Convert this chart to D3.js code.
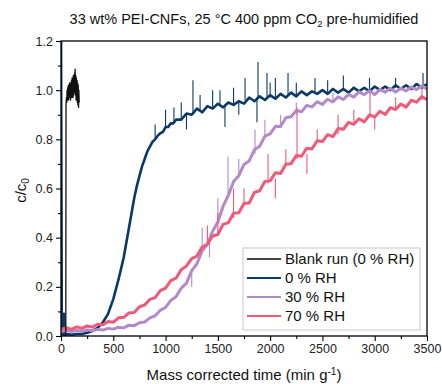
<!DOCTYPE html>
<html>
<head>
<meta charset="utf-8">
<script src="https://cdn.jsdelivr.net/npm/d3@7"></script>
<style>
  body { margin: 0; background: #fff; }
  text { font-family: Arial, "Liberation Sans", sans-serif; }
</style>
</head>
<body>
<svg id="chart" width="442" height="384"></svg>
<script>
// series: [mass corrected time (min/g), c/c0]
const blankRun = [[40,0.0],[46,0.0],[48,0.94],[52,0.97],[55,0.95],[58,1.0],[61,0.96],[64,1.01],[67,0.97],[70,1.02],[73,0.96],[76,1.01],[79,0.98],[82,1.03],[85,0.97],[88,1.02],[91,0.96],[94,1.03],[97,0.98],[100,1.04],[103,0.97],[106,1.05],[109,0.99],[112,1.04],[115,0.97],[118,1.06],[121,0.98],[124,1.05],[127,1.0],[130,1.07],[133,0.99],[135,1.085],[138,0.98],[141,1.06],[144,0.96],[147,1.05],[150,0.97],[153,1.04],[156,0.95],[159,1.03],[162,0.94],[165,1.02],[168,0.93],[171,1.0],[174,0.95]];

const rh0 = [[0,1.25],[8,0.0],[20,0.01],[28,0.09],[34,0.0],[60,0.008],[100,0.005],[150,0.008],[200,0.008],[250,0.013],[300,0.02],[350,0.033],[400,0.055],[450,0.09],[500,0.15],[550,0.23],[600,0.32],[650,0.44],[700,0.56],[725,0.61],[750,0.65],[775,0.69],[800,0.72],[825,0.75],[850,0.77],[875,0.79],[900,0.8],[925,0.815],[950,0.825],[975,0.83],[1000,0.85],[1025,0.85],[1050,0.865],[1075,0.865],[1100,0.88],[1150,0.88],[1200,0.905],[1250,0.9],[1300,0.925],[1350,0.91],[1400,0.935],[1450,0.925],[1500,0.945],[1550,0.93],[1600,0.95],[1650,0.94],[1700,0.955],[1750,0.945],[1800,0.97],[1850,0.955],[1900,0.975],[1950,0.96],[2000,0.98],[2050,0.965],[2100,0.985],[2150,0.97],[2200,0.99],[2250,0.975],[2300,0.995],[2350,0.98],[2400,0.995],[2450,0.985],[2500,1.0],[2550,0.985],[2600,1.005],[2650,0.99],[2700,1.005],[2750,0.99],[2800,1.01],[2850,0.995],[2900,1.01],[2950,0.995],[3000,1.015],[3050,1.0],[3100,1.015],[3150,1.0],[3200,1.02],[3250,1.005],[3300,1.02],[3350,1.005],[3400,1.025],[3450,1.01],[3500,1.025]];

const rh30 = [[0,0.018],[50,0.022],[100,0.018],[150,0.022],[200,0.019],[250,0.025],[300,0.021],[350,0.027],[400,0.024],[450,0.031],[500,0.028],[550,0.036],[600,0.033],[650,0.044],[700,0.042],[750,0.054],[800,0.057],[850,0.074],[900,0.082],[950,0.105],[1000,0.116],[1050,0.145],[1100,0.16],[1150,0.195],[1200,0.215],[1250,0.266],[1300,0.294],[1350,0.346],[1400,0.374],[1450,0.426],[1500,0.464],[1550,0.528],[1600,0.572],[1650,0.628],[1700,0.652],[1750,0.698],[1800,0.712],[1850,0.758],[1900,0.772],[1950,0.813],[2000,0.822],[2050,0.853],[2100,0.852],[2150,0.888],[2200,0.892],[2250,0.918],[2300,0.912],[2350,0.938],[2400,0.932],[2450,0.953],[2500,0.942],[2550,0.963],[2600,0.952],[2650,0.973],[2700,0.962],[2750,0.983],[2800,0.972],[2850,0.993],[2900,0.982],[2950,0.998],[3000,0.982],[3050,1.003],[3100,0.992],[3150,1.008],[3200,0.992],[3250,1.008],[3300,0.997],[3350,1.013],[3400,1.002],[3450,1.018],[3500,1.004]];

const rh70 = [[0,0.026],[50,0.034],[100,0.027],[150,0.037],[200,0.031],[250,0.041],[300,0.036],[350,0.048],[400,0.046],[450,0.059],[500,0.056],[550,0.074],[600,0.076],[650,0.094],[700,0.096],[750,0.119],[800,0.126],[850,0.149],[900,0.156],[950,0.185],[1000,0.195],[1050,0.225],[1100,0.235],[1150,0.27],[1200,0.285],[1250,0.315],[1300,0.325],[1350,0.362],[1400,0.373],[1450,0.407],[1500,0.413],[1550,0.454],[1600,0.461],[1650,0.499],[1700,0.501],[1750,0.539],[1800,0.541],[1850,0.584],[1900,0.591],[1950,0.629],[2000,0.631],[2050,0.664],[2100,0.661],[2150,0.699],[2200,0.701],[2250,0.734],[2300,0.731],[2350,0.764],[2400,0.761],[2450,0.794],[2500,0.791],[2550,0.819],[2600,0.811],[2650,0.844],[2700,0.841],[2750,0.869],[2800,0.861],[2850,0.884],[2900,0.871],[2950,0.899],[3000,0.891],[3050,0.914],[3100,0.901],[3150,0.929],[3200,0.921],[3250,0.944],[3300,0.931],[3350,0.959],[3400,0.951],[3450,0.974],[3500,0.961]];

// noise spikes: [time, from, to]
const rh0Spikes = [[900,0.8,0.86],[1000,0.85,0.92],[1080,0.87,0.93],[1150,0.88,0.95],[1200,0.9,0.84],[1262,0.90,1.04],[1330,0.92,0.98],[1450,0.93,1.0],[1520,0.94,1.0],[1568,0.94,0.85],[1650,0.94,1.01],[1700,0.95,0.9],[1760,0.96,1.05],[1874,0.97,0.87],[1884,0.97,1.115],[1970,0.97,1.07],[2000,0.97,1.03],[2050,0.97,1.05],[2171,0.98,1.07],[2250,0.98,1.03],[2429,0.99,1.05],[2550,0.99,1.04],[2700,1.0,1.06],[2950,1.0,1.05],[3200,1.01,1.05],[3462,1.01,1.07]];
const rh30Spikes = [[1250,0.27,0.2],[1350,0.34,0.44],[1420,0.4,0.32],[1500,0.46,0.56],[1597,0.58,0.73],[1700,0.65,0.72],[1855,0.74,0.84],[1950,0.81,0.88],[2100,0.85,0.9],[2250,0.9,0.95],[2600,0.95,0.99]];
const rh70Spikes = [[1400,0.37,0.45],[1500,0.42,0.5],[1650,0.48,0.6],[1750,0.54,0.6],[1980,0.62,0.74],[2050,0.64,0.56],[2150,0.7,0.76],[2257,0.72,0.93],[2352,0.74,0.66],[2450,0.79,0.84],[2650,0.82,0.9],[2800,0.86,0.92],[2955,0.89,0.99],[3000,0.89,0.84],[3200,0.92,0.97],[3452,0.96,1.01]];

const xTicks = [0, 500, 1000, 1500, 2000, 2500, 3000, 3500];
const yTicks = [0.0, 0.2, 0.4, 0.6, 0.8, 1.0, 1.2];
const legendNames = ['Blank run (0 % RH)', '0 % RH', '30 % RH', '70 % RH'];
const colors = ['#111111', '#0a3868', '#b38ac9', '#ef5a78'];

const svg = d3.select('#chart');
const margin = { top: 41, right: 15, bottom: 48, left: 61 };
const width = +svg.attr('width') - margin.left - margin.right;
const height = +svg.attr('height') - margin.top - margin.bottom;

const x = d3.scaleLinear().domain([0, 3500]).range([0, width]);
const y = d3.scaleLinear().domain([0, 1.2]).range([height, 0]);

const g = svg.append('g').attr('transform', `translate(${margin.left},${margin.top})`);

g.append('clipPath').attr('id', 'clip')
  .append('rect').attr('width', width).attr('height', height);

const plot = g.append('g').attr('clip-path', 'url(#clip)');

const line = d3.line()
  .x(d => x(d[0]))
  .y(d => y(d[1]));

function drawSeries(data, spikes, color, w) {
  plot.append('path')
    .datum(data)
    .attr('fill', 'none')
    .attr('stroke', color)
    .attr('stroke-width', w)
    .attr('stroke-linejoin', 'round')
    .attr('d', line);
  plot.selectAll(null)
    .data(spikes)
    .enter().append('line')
    .attr('x1', d => x(d[0])).attr('x2', d => x(d[0]))
    .attr('y1', d => y(d[1])).attr('y2', d => y(d[2]))
    .attr('stroke', color)
    .attr('stroke-width', 1.1);
}

drawSeries(rh0, rh0Spikes, colors[1], 2.6);
drawSeries(rh30, rh30Spikes, colors[2], 3);
drawSeries(rh70, rh70Spikes, colors[3], 3);
drawSeries(blankRun, [], colors[0], 1.3);

// axes
const xAxis = d3.axisBottom(x).tickValues(xTicks).tickSize(5).tickPadding(3).tickFormat(d3.format('d'));
const yAxis = d3.axisLeft(y).tickValues(yTicks).tickSize(5).tickPadding(3).tickFormat(d3.format('.1f'));

g.append('g').attr('transform', `translate(0,${height})`).call(xAxis);
g.append('g').call(yAxis);

// minor ticks
g.append('g').attr('transform', `translate(0,${height})`)
  .call(d3.axisBottom(x).tickValues([250, 750, 1250, 1750, 2250, 2750, 3250]).tickSize(3).tickFormat(''));
g.append('g')
  .call(d3.axisLeft(y).tickValues([0.1, 0.3, 0.5, 0.7, 0.9, 1.1]).tickSize(3).tickFormat(''));

g.selectAll('.domain').remove();
g.selectAll('.tick line').attr('stroke', '#000').attr('stroke-width', 1.1);
g.selectAll('.tick text').attr('font-size', 12.5).attr('fill', '#222')
  .attr('font-family', 'Arial, "Liberation Sans", sans-serif');

// frame
g.append('rect')
  .attr('width', width).attr('height', height)
  .attr('fill', 'none').attr('stroke', '#000').attr('stroke-width', 1.3);

// title
const title = svg.append('text')
  .attr('x', margin.left + width / 2)
  .attr('y', 24)
  .attr('text-anchor', 'middle')
  .attr('font-size', 14.5)
  .attr('fill', '#111');
title.append('tspan').text('33 wt% PEI-CNFs, 25 °C 400 ppm CO');
title.append('tspan').attr('font-size', 9.5).attr('dy', 3).text('2');
title.append('tspan').attr('dy', -3).text(' pre-humidified');

// axis labels
const xl = svg.append('text')
  .attr('x', margin.left + width / 2)
  .attr('y', 380)
  .attr('text-anchor', 'middle')
  .attr('font-size', 15)
  .attr('fill', '#111');
xl.append('tspan').text('Mass corrected time (min g');
xl.append('tspan').attr('font-size', 10).attr('dy', -5).text('-1');
xl.append('tspan').attr('dy', 5).text(')');

const yl = svg.append('text')
  .attr('transform', `translate(26,${margin.top + height / 2 + 2}) rotate(-90)`)
  .attr('text-anchor', 'middle')
  .attr('font-size', 15)
  .attr('fill', '#111');
yl.append('tspan').text('c/c');
yl.append('tspan').attr('font-size', 10).attr('dy', 3).text('0');

// legend
const legend = svg.append('g').attr('transform', 'translate(243,248)');
legend.append('rect')
  .attr('width', 177).attr('height', 82)
  .attr('fill', '#fff').attr('stroke', '#c8c8c8').attr('stroke-width', 1);
const items = legend.selectAll('g.item')
  .data(legendNames)
  .enter().append('g')
  .attr('class', 'item')
  .attr('transform', (d, i) => `translate(0,${11 + i * 19})`);
items.append('line')
  .attr('x1', 4).attr('x2', 38)
  .attr('stroke', (d, i) => i === 0 ? '#444' : colors[i])
  .attr('stroke-width', 1.8);
items.append('text')
  .attr('x', 42).attr('dy', '0.35em')
  .attr('font-size', 15)
  .attr('fill', '#111')
  .text(d => d);
</script>
</body>
</html>
